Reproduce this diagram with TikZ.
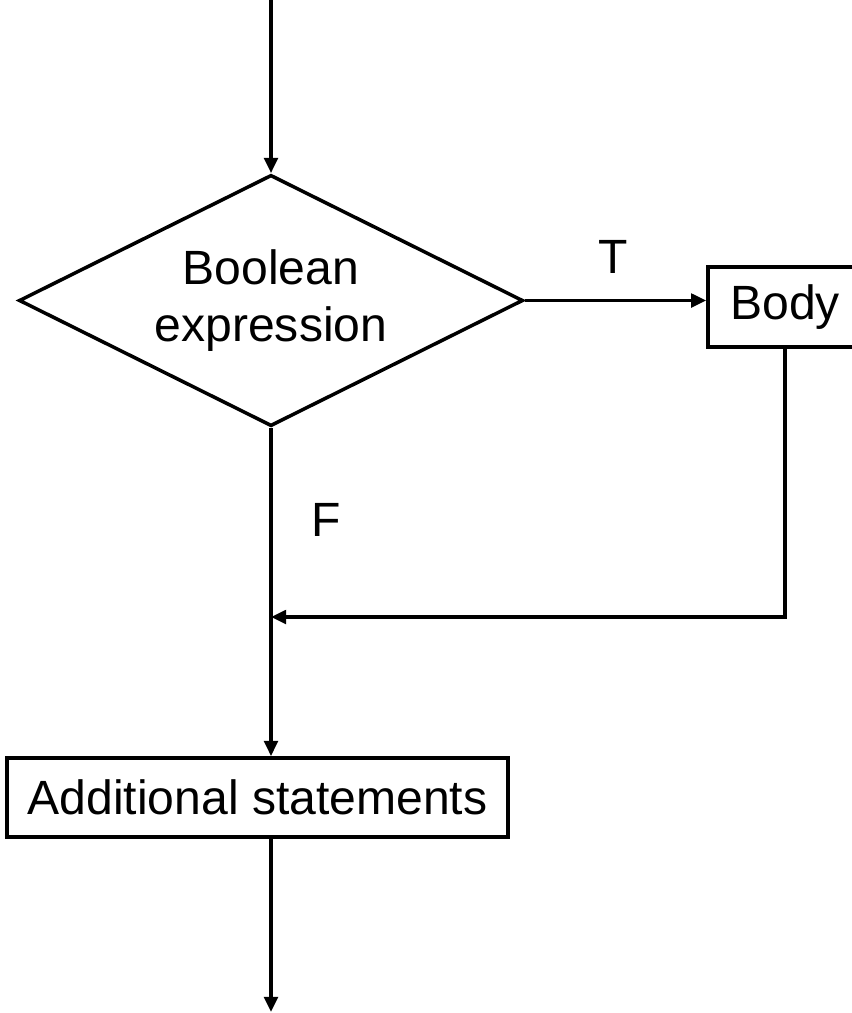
\documentclass[tikz,border=0pt]{standalone}
\usepackage{fontspec}
\setmainfont{Liberation Sans}
\usetikzlibrary{shapes.geometric,arrows.meta}

\tikzset{
  flow/.style={line width=2.5pt, -{Triangle[length=0.38cm, width=0.34cm]}},
  plain/.style={line width=2.5pt},
  stmt/.style={draw, line width=2.5pt, rectangle, inner sep=0pt},
  decision/.style={draw, line width=2.5pt, diamond, aspect=2, inner sep=0pt, align=center},
  lbl/.style={inner sep=0pt}
}

\begin{document}
\begin{tikzpicture}[x=0.025cm, y=-0.025cm, font=\fontsize{34.2}{41}\selectfont]
  \useasboundingbox (0,0) rectangle (851,1013);

  \coordinate (start) at (271,0);
  \node[decision, minimum width=12.6cm, minimum height=6.28cm] (cond) at (271,300.5) {Boolean\\expression};
  \node[stmt, minimum width=3.85cm, minimum height=2cm] (body) at (785,307) {Body};
  \node[stmt, minimum width=12.52cm, minimum height=1.98cm] (extra) at (257.5,797.5) {Additional statements};
  \coordinate (join) at (271,617);
  \coordinate (end) at (271,1012);

  \draw[flow] (start) -- (cond.north); % entry
  \draw[flow] (cond.east) -- (cond.east -| body.west); % true branch
  \node[lbl] (tlabel) at (613,257) {T};
  \draw[plain] (cond.south) -- (join); % false branch
  \node[lbl] (flabel) at (326,520) {F};
  \draw[flow] (body.south) |- (join); % back from body
  \draw[flow] (join) -- (join |- extra.north);
  \draw[flow] (extra.south -| join) -- (end); % exit
\end{tikzpicture}
\end{document}
